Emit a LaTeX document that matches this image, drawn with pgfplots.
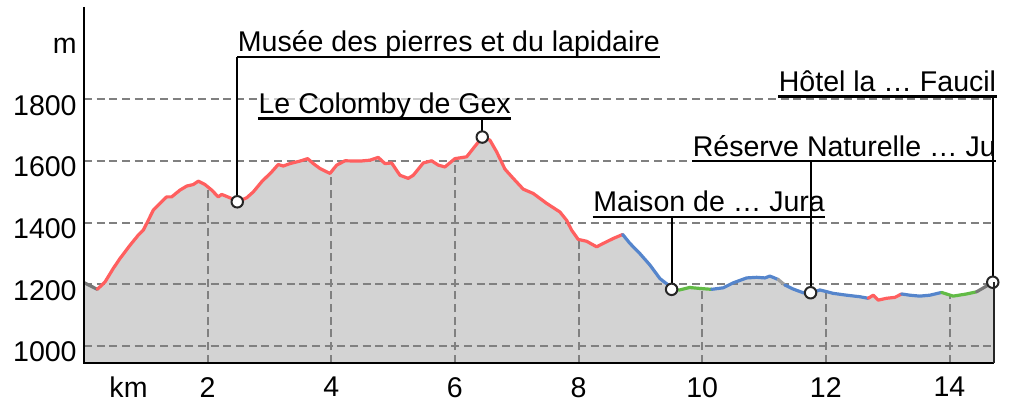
\documentclass[border=0pt]{standalone}
\usepackage{pgfplots}
\pgfplotsset{compat=1.18}
\usepackage{pgfplotstable}
\usepackage{fontspec}
\setmainfont{Liberation Sans}

\definecolor{pred}{HTML}{FF5F5F}
\definecolor{pblue}{HTML}{5585CC}
\definecolor{pgreen}{HTML}{62BB46}
\definecolor{pgrayl}{HTML}{777777}
\definecolor{pfill}{HTML}{D3D3D3}
\definecolor{pgrid}{HTML}{808080}

\tikzset{
  lbl/.style={anchor=south west, font=\fontsize{21.4pt}{25pt}\selectfont,
    inner xsep=0.3pt, inner ysep=3.6pt, text depth=0pt,
    fill=white, fill opacity=0.6, text opacity=1},
  grd/.style={pgrid, line width=1.5pt, dash pattern=on 6pt off 3.5pt},
  seg/.style={line width=2.4pt, line join=round, line cap=round},
}

\pgfplotstableread{
km elev
0.000 1206
0.215 1184
0.340 1208
0.474 1252
0.582 1284
0.744 1327
0.878 1360
0.959 1376
1.040 1408
1.121 1441
1.229 1463
1.337 1484
1.418 1484
1.553 1506
1.661 1519
1.768 1524
1.849 1535
1.957 1524
2.065 1506
2.172 1484
2.227 1492
2.361 1481
2.479 1468
2.631 1481
2.738 1500
2.874 1533
3.036 1565
3.142 1589
3.223 1584
3.332 1592
3.493 1600
3.618 1608
3.709 1592
3.817 1576
3.979 1560
4.087 1587
4.221 1601
4.464 1600
4.626 1603
4.760 1612
4.868 1592
4.976 1594
5.111 1554
5.245 1544
5.326 1554
5.488 1594
5.623 1601
5.730 1587
5.838 1581
6.000 1608
6.190 1614
6.296 1641
6.442 1678
6.566 1668
6.675 1630
6.809 1574
6.943 1544
7.105 1509
7.267 1495
7.483 1463
7.698 1435
7.807 1408
7.888 1376
7.994 1346
8.130 1340
8.292 1322
8.399 1333
8.561 1349
8.713 1362
8.831 1333
8.992 1300
9.154 1263
9.316 1219
9.450 1198
9.505 1184
9.633 1182
9.795 1190
9.956 1187
10.152 1184
10.340 1189
10.501 1205
10.718 1221
10.880 1223
11.014 1221
11.095 1227
11.229 1216
11.337 1198
11.471 1185
11.633 1173
11.753 1173
11.904 1182
12.119 1171
12.336 1165
12.551 1160
12.685 1155
12.766 1165
12.847 1149
12.982 1155
13.117 1158
13.225 1169
13.359 1165
13.520 1162
13.682 1165
13.872 1174
14.059 1162
14.276 1169
14.438 1176
14.653 1201
14.700 1207
14.720 1207
}\profile

\begin{document}
\begin{tikzpicture}
\path[use as bounding box] (0,0) rectangle (756.75pt,-304.5pt);
\begin{axis}[
  at={(63pt,-272.03pt)}, anchor=south west,
  scale only axis, width=682.5pt, height=266.8pt,
  xmin=0, xmax=14.72, ymin=946, ymax=2100,
  clip mode=individual,
  axis x line=bottom, axis y line=left,
  axis line style={draw=none},
  xtick={2,4,6,8,10,12,14},
  ytick={1000,1200,1400,1600,1800},
  extra x ticks={0.72}, extra x tick labels={km},
  extra y ticks={1995}, extra y tick labels={m},
  major tick length=0pt, minor tick length=0pt,
  tick style={draw=none},
  /pgf/number format/assume math mode=true,
  /pgf/number format/1000 sep={},
  every tick label/.append style={font=\fontsize{21.4pt}{25pt}\selectfont},
  yticklabel style={yshift=-4.5pt, xshift=-2pt},
  xticklabel style={yshift=-7.4pt},
]
% area
\addplot[fill=pfill, draw=none] table[x=km,y=elev] {\profile} \closedcycle;
% horizontal grid
\addplot[grd] coordinates {(0,1000) (14.72,1000)};
\addplot[grd] coordinates {(0,1200) (14.72,1200)};
\addplot[grd] coordinates {(0,1400) (14.72,1400)};
\addplot[grd] coordinates {(0,1600) (14.72,1600)};
\addplot[grd] coordinates {(0,1800) (14.72,1800)};
% vertical grid (up to the profile)
\addplot[grd, ycomb, mark=none] coordinates {(2,1515) (4,1563) (6,1608) (8,1346) (10,1186) (12,1177) (14,1165)};
% coloured profile segments
\addplot[seg, pgrayl, restrict x to domain=-0.001:0.2155] table[x=km,y=elev] {\profile};
\addplot[seg, pred, restrict x to domain=0.2145:8.7135] table[x=km,y=elev] {\profile};
\addplot[seg, pblue, restrict x to domain=8.7125:9.5055] table[x=km,y=elev] {\profile};
\addplot[seg, pgreen, restrict x to domain=9.5045:10.1525] table[x=km,y=elev] {\profile};
\addplot[seg, pblue, restrict x to domain=10.1515:11.2295] table[x=km,y=elev] {\profile};
\addplot[seg, pgrayl!70, restrict x to domain=11.2285:11.3375] table[x=km,y=elev] {\profile};
\addplot[seg, pblue, restrict x to domain=11.3365:12.6855] table[x=km,y=elev] {\profile};
\addplot[seg, pred, restrict x to domain=12.6845:13.2255] table[x=km,y=elev] {\profile};
\addplot[seg, pblue, restrict x to domain=13.2245:13.8725] table[x=km,y=elev] {\profile};
\addplot[seg, pgreen, restrict x to domain=13.8715:14.4385] table[x=km,y=elev] {\profile};
\addplot[seg, pgrayl, restrict x to domain=14.4375:14.701] table[x=km,y=elev] {\profile};
% label boxes
\node[lbl] (n1) at (axis cs:2.479,1938) {Musée des pierres et du lapidaire};
\node[lbl] (n2) at (axis cs:2.814,1738) {Le Colomby de Gex};
\node[lbl] (n3) at (axis cs:8.227,1419) {Maison de … Jura};
\node[lbl] (n4) at (axis cs:9.838,1600) {Réserve Naturelle … Ju};
\node[lbl] (n5) at (axis cs:11.229,1810) {Hôtel la … Faucil};
% connectors
\addplot[black, line width=1.6pt] coordinates {(2.479,1938) (2.479,1468)};
\addplot[black, line width=1.6pt] coordinates {(6.442,1738) (6.442,1678)};
\addplot[black, line width=1.6pt] coordinates {(9.505,1419) (9.505,1184)};
\addplot[black, line width=1.6pt] coordinates {(11.753,1600) (11.753,1173)};
\addplot[black, line width=1.6pt] coordinates {(14.70,1810) (14.70,1207)};
% underlines
\draw[black, line width=1.8pt] (n1.south west) -- (n1.south east);
\draw[black, line width=1.8pt] (n2.south west) -- (n2.south east);
\draw[black, line width=1.8pt] (n3.south west) -- (n3.south east);
\draw[black, line width=1.8pt] (n4.south west) -- (n4.south east);
\draw[black, line width=1.8pt] (n5.south west) -- (n5.south east);
% markers
\addplot[only marks, mark=*, mark size=4.3pt,
  mark options={fill=white, draw=black!85, line width=1.5pt}]
  coordinates {(2.479,1468) (6.442,1678) (9.505,1184) (11.753,1173) (14.70,1207)};
% axis lines
\draw[black, line width=1.6pt] (rel axis cs:0,1) -- (rel axis cs:0,0) -- (rel axis cs:1,0);
\draw[black!85, line width=1.6pt] (axis cs:14.72,946) -- (axis cs:14.72,1207);
\end{axis}
\end{tikzpicture}
\end{document}
